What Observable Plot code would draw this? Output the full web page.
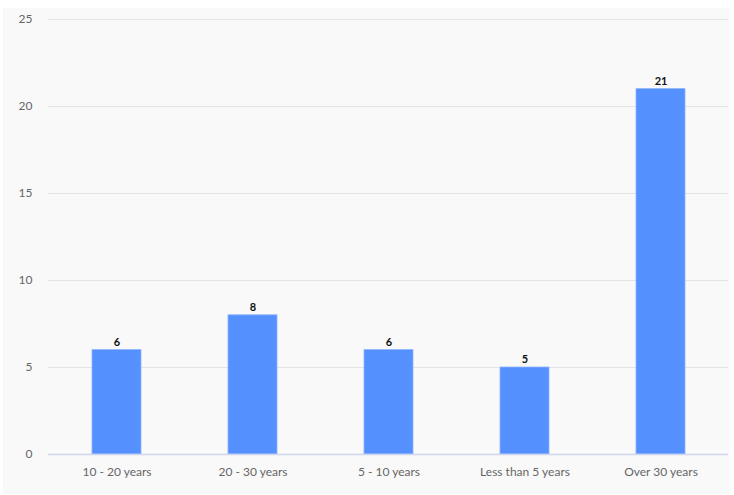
<!DOCTYPE html>
<html>
<head>
<meta charset="utf-8">
<script src="https://cdn.jsdelivr.net/npm/d3@7"></script>
<script src="https://cdn.jsdelivr.net/npm/@observablehq/plot@0.6"></script>
<style>
  html, body { margin: 0; padding: 0; background: #ffffff; }
  #panel { position: absolute; left: 3px; top: 8px; width: 727px; height: 486px; background: #f9f9f9; }
</style>
</head>
<body>
<div id="panel"></div>
<script>
const categories = ["10 - 20 years", "20 - 30 years", "5 - 10 years", "Less than 5 years", "Over 30 years"];
const values = [6, 8, 6, 5, 21];
const yTicks = [0, 5, 10, 15, 20, 25];

const data = categories.map((c, i) => ({category: c, value: values[i]}));

const chart = Plot.plot({
  width: 727,
  height: 486,
  marginTop: 11,
  marginBottom: 40,
  marginLeft: 45,
  marginRight: 2,
  style: {background: "transparent", fontFamily: "Lato, 'Open Sans', sans-serif", fontSize: "12px", color: "#666"},
  x: {domain: categories, paddingInner: 0.64, paddingOuter: 0.32, label: null, tickSize: 0, tickPadding: 13},
  y: {domain: [0, 25], ticks: yTicks, label: null, tickSize: 0, tickPadding: 16},
  marks: [
    Plot.gridY(yTicks.filter(t => t > 0), {stroke: "#e3e3e3", strokeOpacity: 1, strokeWidth: 1}),
    Plot.barY(data, {x: "category", y: "value", fill: "#5590ff", stroke: "#8fb4ff", strokeWidth: 0.8}),
    Plot.ruleY([0], {stroke: "#cfd6ee", strokeWidth: 1.5}),
    Plot.text(data, {x: "category", y: "value", text: d => String(d.value), dy: -8, fontWeight: "bold", fontSize: 11, fill: "#111"})
  ]
});
document.getElementById("panel").appendChild(chart);
</script>
</body>
</html>
